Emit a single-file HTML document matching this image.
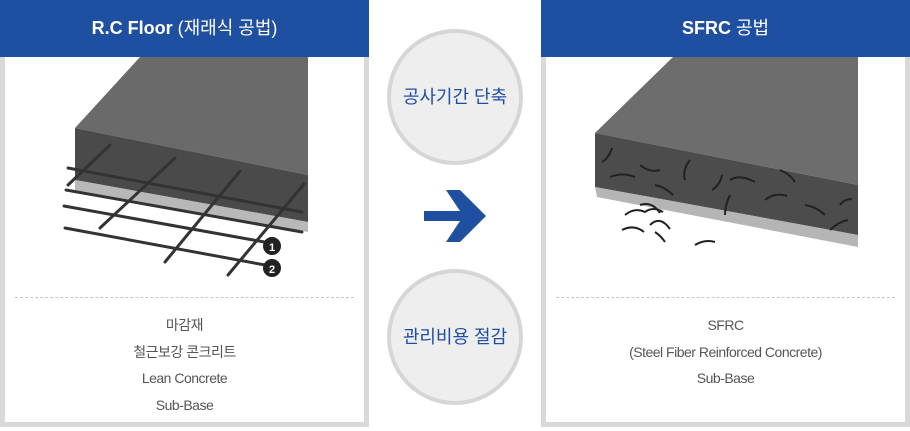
<!DOCTYPE html>
<html><head><meta charset="utf-8"><style>
body{margin:0;width:910px;height:431px;background:#fff;position:relative;overflow:hidden;font-family:"Liberation Sans","Noto Sans CJK KR",sans-serif}
.panel{position:absolute;top:0;width:359px;height:422px;border:5px solid #d9d9d9;border-top:none;background:#fff}
.hd{position:absolute;left:-5px;top:0;width:369px;height:57px;background:#1f4fa0;color:#fff;font-weight:bold;font-size:18px;text-align:center;line-height:57px}
.hd span{font-weight:normal}
.dash{position:absolute;left:10px;right:10px;top:297px;border-top:1px dashed #c8c8c8}
.txt{position:absolute;left:0;right:0;top:312px;text-align:center;color:#555;font-size:14px;line-height:26.5px;letter-spacing:-0.5px}
.circ{position:absolute;left:387px;width:128px;height:128px;border-radius:50%;background:#eeeeee;border:4px solid #d6d6d6;color:#1f4fa0;font-size:18px;text-align:center;line-height:128px}
</style></head><body>
<div class="panel" style="left:0">
<div class="hd">R.C Floor <span>(재래식 공법)</span></div>
<svg style="position:absolute;left:-5px;top:0" width="369" height="290">
<polygon points="140,57 308,57 308,175 75,128" fill="#6a6a6a"/>
<polygon points="75,128 308,175 308,222 75,180" fill="#4a4a4a"/>
<polygon points="75,180 308,222 308,232 75,190" fill="#b8b8b8"/>
<g stroke="#333" stroke-width="3" stroke-linecap="round">
<line x1="68" y1="168" x2="302" y2="212"/>
<line x1="66" y1="190" x2="302" y2="232"/>
<line x1="64" y1="206" x2="270" y2="243"/>
<line x1="65" y1="228" x2="265" y2="265"/>
<line x1="110" y1="145" x2="68" y2="185"/>
<line x1="175" y1="158" x2="100" y2="228"/>
<line x1="240" y1="171" x2="165" y2="262"/>
<line x1="304" y1="184" x2="228" y2="275"/>
</g>
<circle cx="272" cy="246" r="9" fill="#222"/><text x="272" y="251" fill="#fff" font-size="11" font-weight="bold" text-anchor="middle">1</text>
<circle cx="272" cy="268" r="9" fill="#222"/><text x="272" y="273" fill="#fff" font-size="11" font-weight="bold" text-anchor="middle">2</text>
</svg>
<div class="dash"></div>
<div class="txt">마감재<br>철근보강 콘크리트<br>Lean Concrete<br>Sub-Base</div>
</div>
<div class="panel" style="left:541px">
<div class="hd">SFRC <span>공법</span></div>
<svg style="position:absolute;left:-546px;top:0" width="910" height="290">
<polygon points="673,57 858,57 858,185 595,133" fill="#6d6d6d"/>
<polygon points="595,133 858,185 858,235 595,187" fill="#4c4c4c"/>
<polygon points="595,187 858,235 858,247 597,197" fill="#b5b5b5"/>
<g stroke="#222" stroke-width="2" fill="none">
<path d="M625,215 q10,-8 20,-3 q8,-6 18,0"/><path d="M622,230 q12,-6 22,2"/><path d="M650,225 q10,-10 20,4"/><path d="M695,245 q10,-6 20,-3"/><path d="M640,205 q12,-4 20,8"/><path d="M655,232 q6,4 10,10"/>
<path d="M640,165 q10,8 20,5"/><path d="M690,160 q-8,10 -5,20"/><path d="M730,180 q10,-6 25,2"/><path d="M780,170 q10,4 15,12"/>
<path d="M612,148 q-3,10 -10,14"/><path d="M610,177 q12,-5 25,0"/><path d="M655,185 q10,2 18,10"/><path d="M712,190 q8,-5 10,-15"/><path d="M730,195 q-5,10 -5,20"/><path d="M765,200 q10,-8 22,-4"/><path d="M805,205 q12,2 20,10"/><path d="M830,230 q8,-8 18,-10"/><path d="M840,205 q4,-6 12,-6"/>
</g>
</svg>
<div class="dash"></div>
<div class="txt">SFRC<br>(Steel Fiber Reinforced Concrete)<br>Sub-Base</div>
</div>
<div class="circ" style="top:29px">공사기간 단축</div>
<div class="circ" style="top:269px">관리비용 절감</div>
<svg style="position:absolute;left:424px;top:190px" width="64" height="52"><polygon points="0,21 36,21 22,0 36,0 62,26 36,52 22,52 36,31 0,31" fill="#1f4fa0"/></svg>
</body></html>
